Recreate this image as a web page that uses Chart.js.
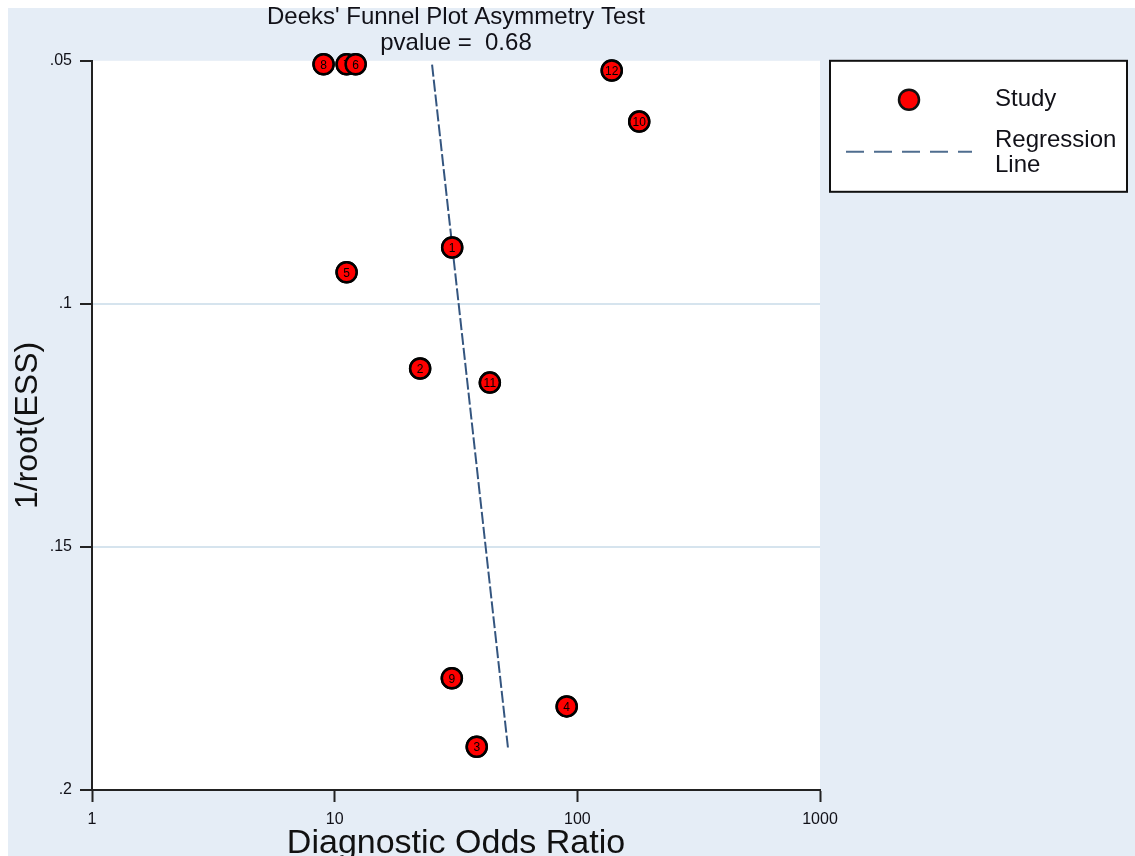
<!DOCTYPE html>
<html lang="en">
<head>
<meta charset="utf-8" />
<title>Deeks' Funnel Plot Asymmetry Test</title>
<script src="https://cdn.jsdelivr.net/npm/chart.js@4.4.0/dist/chart.umd.min.js"></script>
<style>
    html, body { margin: 0; padding: 0; overflow: hidden; background: #fff; }
    #wrap { position: relative; width: 1135px; height: 870px; }
</style>
</head>
<body>
<div id="wrap"><canvas id="chart"></canvas></div>
<script>
    // study points (7 sits under 6)
    const studyIds = ['8', '7', '6', '12', '10', '1', '5', '2', '11', '9', '4', '3'];
    const oddsRatio = [9.0, 11.2, 12.2, 138.6, 179.9, 30.5, 11.2, 22.5, 43.6, 30.4, 90.4, 38.5];
    const invRootEss = [0.0507, 0.0507, 0.0507, 0.0520, 0.0625, 0.0884, 0.0935, 0.1133, 0.1162, 0.1770, 0.1828, 0.1911];

    // regression line end points
    const regX = [25.2, 51.8];
    const regY = [0.0508, 0.1914];

    const xTicks = [1, 10, 100, 1000];
    const yTicks = [0.05, 0.1, 0.15, 0.2];

    const PANEL = '#e5edf6';
    const INK = '#111118';
    Chart.defaults.font.family = "'Liberation Sans', Arial, sans-serif";

    const backdrop = {
        id: 'backdrop',
        beforeDraw(chart) {
            const { ctx, width, height, chartArea: a } = chart;
            ctx.save();
            ctx.fillStyle = '#fff';
            ctx.fillRect(0, 0, width, height);
            ctx.fillStyle = PANEL;
            ctx.fillRect(8, 8, width - 8, height - 8);
            ctx.fillStyle = '#fff';
            ctx.fillRect(a.left, a.top, a.right - a.left, a.bottom - a.top);
            ctx.restore();
        }
    };

    // redraw each study marker with its number so later markers cover earlier ones
    const studyLabels = {
        id: 'studyLabels',
        afterDatasetsDraw(chart) {
            const ctx = chart.ctx;
            const meta = chart.getDatasetMeta(1);
            ctx.save();
            meta.data.forEach((pt, i) => {
                pt.draw(ctx);
                ctx.fillStyle = '#000';
                ctx.font = "12px 'Liberation Sans', Arial, sans-serif";
                ctx.textAlign = 'center';
                ctx.textBaseline = 'middle';
                ctx.fillText(studyIds[i], pt.x, pt.y + 1);
            });
            ctx.restore();
        }
    };

    const sideLegend = {
        id: 'sideLegend',
        afterDraw(chart) {
            const { ctx, chartArea: a } = chart;
            const bx = a.right + 10, by = a.top, bw = 297, bh = 131;
            ctx.save();
            ctx.fillStyle = '#fff';
            ctx.fillRect(bx, by, bw, bh);
            ctx.strokeStyle = '#111';
            ctx.lineWidth = 2;
            ctx.strokeRect(bx, by, bw, bh);

            ctx.beginPath();
            ctx.arc(bx + 79, by + 39, 10, 0, Math.PI * 2);
            ctx.fillStyle = '#ff0000';
            ctx.fill();
            ctx.lineWidth = 2.5;
            ctx.stroke();

            ctx.beginPath();
            ctx.lineWidth = 2;
            ctx.setLineDash([18, 10]);
            ctx.strokeStyle = '#4f6d8f';
            ctx.moveTo(bx + 16, by + 91);
            ctx.lineTo(bx + 142, by + 91);
            ctx.stroke();
            ctx.setLineDash([]);

            ctx.fillStyle = INK;
            ctx.font = "24px 'Liberation Sans', Arial, sans-serif";
            ctx.textAlign = 'left';
            ctx.textBaseline = 'middle';
            ctx.fillText('Study', bx + 165, by + 39);
            ctx.fillText('Regression', bx + 165, by + 80);
            ctx.fillText('Line', bx + 165, by + 105);
            ctx.restore();
        }
    };

    const ctx = document.getElementById('chart').getContext('2d');
    new Chart(ctx, {
        type: 'scatter',
        data: {
            datasets: [
                {
                    type: 'line',
                    label: 'Regression Line',
                    data: regX.map((x, i) => ({ x: x, y: regY[i] })),
                    borderColor: '#34557f',
                    borderWidth: 2,
                    borderDash: [12, 3],
                    pointRadius: 0,
                    fill: false,
                    order: 2
                },
                {
                    label: 'Study',
                    data: oddsRatio.map((x, i) => ({ x: x, y: invRootEss[i] })),
                    backgroundColor: '#ff0000',
                    borderColor: '#000',
                    borderWidth: 2.5,
                    pointRadius: 10,
                    pointHoverRadius: 10,
                    clip: false,
                    order: 1
                }
            ]
        },
        options: {
            responsive: true,
            maintainAspectRatio: false,
            animation: false,
            layout: { padding: { left: 8, right: 315, top: 0, bottom: 0 } },
            plugins: {
                legend: { display: false },
                tooltip: { enabled: false },
                title: {
                    display: true,
                    fullSize: false,
                    text: ["Deeks' Funnel Plot Asymmetry Test", 'pvalue =  0.68'],
                    color: INK,
                    font: { size: 24, weight: 'normal', lineHeight: 1.1 },
                    padding: { top: 4, bottom: 4 }
                }
            },
            scales: {
                x: {
                    type: 'logarithmic',
                    position: 'bottom',
                    min: 1,
                    max: 1000,
                    afterBuildTicks: s => { s.ticks = xTicks.map(v => ({ value: v })); },
                    afterFit: s => { s.height = 80; },
                    ticks: {
                        callback: v => String(v),
                        color: INK,
                        font: { size: 16 },
                        padding: 8,
                        maxRotation: 0,
                        autoSkip: false
                    },
                    grid: { drawOnChartArea: false, tickLength: 12, tickColor: '#222', tickWidth: 2 },
                    border: { color: '#222', width: 2 },
                    title: {
                        display: true,
                        text: 'Diagnostic Odds Ratio',
                        color: '#111',
                        font: { size: 34 },
                        padding: { top: 0, bottom: 6 }
                    }
                },
                y: {
                    type: 'linear',
                    reverse: true,
                    min: 0.05,
                    max: 0.2,
                    afterBuildTicks: s => { s.ticks = yTicks.map(v => ({ value: v })); },
                    afterFit: s => { s.width = 84; },
                    ticks: {
                        callback: v => String(v).replace(/^0/, ''),
                        color: INK,
                        font: { size: 16 },
                        padding: 8
                    },
                    grid: {
                        color: c => (c.tick && (c.tick.value === 0.1 || c.tick.value === 0.15)) ? '#d6e4ee' : 'rgba(0,0,0,0)',
                        lineWidth: 2,
                        tickColor: '#222',
                        tickLength: 12,
                        tickWidth: 2
                    },
                    border: { color: '#222', width: 2 },
                    title: {
                        display: true,
                        text: '1/root(ESS)',
                        color: '#111',
                        font: { size: 32 },
                        padding: { top: 1, bottom: 0 }
                    }
                }
            }
        },
        plugins: [backdrop, studyLabels, sideLegend]
    });
</script>
</body>
</html>
